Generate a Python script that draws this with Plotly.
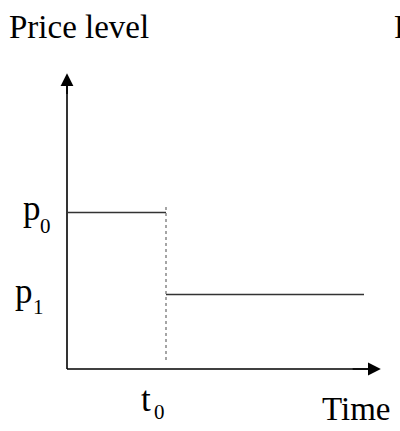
import plotly.graph_objects as go

# Conceptual data (time units, price units)
time_before = [0, 1]          # from origin to t0
time_after = [1, 3]           # from t0 onwards
price_p0 = [2.1, 2.1]         # p0 level
price_p1 = [1.0, 1.0]         # p1 level
t0_line_time = [1, 1]
t0_line_price = [0.12, 2.21]
axis_x_end = 3.17
axis_y_end = 3.97

W, H = 400, 431
X0_PX, Y0_PX = 67, 369       # pixel of origin
SX, SY = 99.0, 74.5           # pixels per unit

def xr(px):
    return (px - X0_PX) / SX

def yr(py):
    return (Y0_PX - py) / SY

fig = go.Figure()
# axes
fig.add_trace(go.Scatter(x=[0, 0], y=[0, axis_y_end - 0.12], mode="lines",
                         line=dict(color="black", width=1.6), hoverinfo="skip"))
fig.add_trace(go.Scatter(x=[0, axis_x_end - 0.1], y=[0, 0], mode="lines",
                         line=dict(color="black", width=1.6), hoverinfo="skip"))
# price path
fig.add_trace(go.Scatter(x=time_before, y=price_p0, mode="lines",
                         line=dict(color="#333333", width=1.5), hoverinfo="skip"))
fig.add_trace(go.Scatter(x=time_after, y=price_p1, mode="lines",
                         line=dict(color="#333333", width=1.5), hoverinfo="skip"))
fig.add_trace(go.Scatter(x=t0_line_time, y=t0_line_price, mode="lines",
                         line=dict(color="#888888", width=1.5, dash="dot"), hoverinfo="skip"))

ann = []
# arrowheads
ann.append(dict(x=0, y=axis_y_end, ax=0, ay=axis_y_end - 0.3, xref="x", yref="y",
                axref="x", ayref="y", showarrow=True, arrowhead=2, arrowsize=1.6,
                arrowwidth=1.6, arrowcolor="black", text=""))
ann.append(dict(x=axis_x_end, y=0, ax=axis_x_end - 0.3, ay=0, xref="x", yref="y",
                axref="x", ayref="y", showarrow=True, arrowhead=2, arrowsize=1.6,
                arrowwidth=1.6, arrowcolor="black", text=""))

FAMILY = "Liberation Serif, Times New Roman, serif"
def label(text, px, py, size=33, xanchor="left", yanchor="middle"):
    ann.append(dict(x=xr(px), y=yr(py), xref="x", yref="y", text=text, showarrow=False,
                    xanchor=xanchor, yanchor=yanchor,
                    font=dict(family=FAMILY, size=size, color="black")))

label("Price level", 7, 27)
label("P", 392, 27)
label("p", 21, 208, size=35)
label("0", 38, 226, size=21)
label("p", 13, 291, size=35)
label("1", 31, 307, size=21)
label("t", 139, 399, size=35)
label("0", 152, 412, size=21)
label("Time", 320, 409)

fig.update_layout(
    width=W, height=H, margin=dict(l=0, r=0, t=0, b=0),
    paper_bgcolor="white", plot_bgcolor="white", showlegend=False,
    xaxis=dict(range=[xr(0), xr(W)], visible=False, fixedrange=True),
    yaxis=dict(range=[yr(H), yr(0)], visible=False, fixedrange=True),
    annotations=ann,
)
fig.write_html("out.html", config={"displayModeBar": False},
               post_script="document.body.style.margin='0';document.body.style.overflow='hidden';")
